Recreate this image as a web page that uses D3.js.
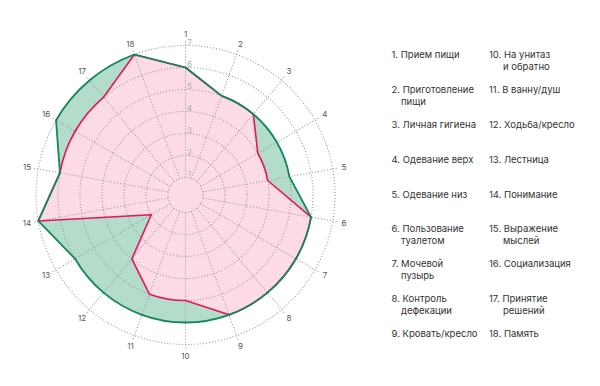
<!DOCTYPE html>
<meta charset="utf-8">
<style>
  body { margin: 0; background: #fff; }
  text { font-family: Inter, "Noto Sans", sans-serif; }
</style>
<body>
  <script src="https://cdn.jsdelivr.net/npm/d3@7"></script>
  <script>
    // axis numbers and the two series (score 1..7 per item)
    var axes = d3.range(1, 19);
    var levels = [1, 2, 3, 4, 5, 6, 7];
    var before = [6, 5, 5, 5, 5, 6, 6, 6, 6, 6, 6, 6, 6, 7, 6, 7, 7, 7];
    var after = [6, 5, 5, 4, 4, 6, 6, 6, 6, 5, 5, 4, 2, 7, 6, 6, 6, 7];

    var legendLeft = [
      "1. Прием пищи",
      "2. Приготовление\nпищи",
      "3. Личная гигиена",
      "4. Одевание верх",
      "5. Одевание низ",
      "6. Пользование\nтуалетом",
      "7. Мочевой\nпузырь",
      "8. Контроль\nдефекации",
      "9. Кровать/кресло"
    ];
    var legendRight = [
      "10. На унитаз\nи обратно",
      "11. В ванну/душ",
      "12. Ходьба/кресло",
      "13. Лестница",
      "14. Понимание",
      "15. Выражение\nмыслей",
      "16. Социализация",
      "17. Принятие\nрешений",
      "18. Память"
    ];

    var width = 600, height = 386;
    var cx = 185.5, cy = 195;

    var svg = d3.select("body").append("svg")
      .attr("width", width)
      .attr("height", height);

    var g = svg.append("g")
      .attr("transform", "translate(" + cx + "," + cy + ")");

    var r = d3.scaleLinear().domain([1, 7]).range([17.5, 149.5]);
    var angle = d3.scaleLinear().domain([0, axes.length]).range([0, 2 * Math.PI]);

    // straight edges between different scores, arcs between equal ones
    function shape(values) {
      var p = d3.path();
      var n = values.length;
      values.forEach(function(v, i) {
        var a = angle(i) - Math.PI / 2;
        if (i === 0) p.moveTo(r(v) * Math.cos(a), r(v) * Math.sin(a));
        var w = values[(i + 1) % n];
        var b = angle(i + 1) - Math.PI / 2;
        if (w === v) p.arc(0, 0, r(v), a, b, false);
        else p.lineTo(r(w) * Math.cos(b), r(w) * Math.sin(b));
      });
      p.closePath();
      return p.toString();
    }

    // fills
    g.append("path")
      .attr("d", shape(before))
      .style("fill", "#b3dccb");
    g.append("path")
      .attr("d", shape(after))
      .style("fill", "#fcdbe4");

    // grid circles
    g.selectAll(".level")
      .data(levels)
      .enter().append("circle")
      .attr("r", function(d) { return r(d); })
      .style("fill", "none")
      .style("stroke", "#9a9a9a")
      .style("stroke-width", 1.1)
      .style("stroke-dasharray", "1,2");

    // spokes
    g.selectAll(".spoke")
      .data(axes)
      .enter().append("line")
      .attr("x1", function(d, i) { return r(1) * Math.sin(angle(i)); })
      .attr("y1", function(d, i) { return -r(1) * Math.cos(angle(i)); })
      .attr("x2", function(d, i) { return 154 * Math.sin(angle(i)); })
      .attr("y2", function(d, i) { return -154 * Math.cos(angle(i)); })
      .style("stroke", "#9a9a9a")
      .style("stroke-width", 1.1)
      .style("stroke-dasharray", "1,2");

    // strokes
    g.append("path")
      .attr("d", shape(after))
      .style("fill", "none")
      .style("stroke", "#e5165a")
      .style("stroke-width", 1.6)
      .style("stroke-linejoin", "round");
    g.append("path")
      .attr("d", shape(before))
      .style("fill", "none")
      .style("stroke", "#12885a")
      .style("stroke-width", 1.8)
      .style("stroke-linejoin", "round");

    // level labels along axis 1
    g.selectAll(".tick")
      .data(levels)
      .enter().append("text")
      .attr("x", 4)
      .attr("y", function(d) { return -r(d) - 1; })
      .attr("text-anchor", "middle")
      .style("font-size", "7.5px")
      .style("fill", "#aaa")
      .text(function(d) { return d; });

    // axis numbers
    g.selectAll(".axis-label")
      .data(axes)
      .enter().append("text")
      .attr("x", function(d, i) { return 161 * Math.sin(angle(i)); })
      .attr("y", function(d, i) { return -161 * Math.cos(angle(i)); })
      .attr("dy", "0.35em")
      .attr("text-anchor", "middle")
      .style("font-size", "8px")
      .style("fill", "#555")
      .text(function(d) { return d; });

    // legend
    function legend(items, x, indent) {
      var row = d3.scaleLinear().domain([0, 8]).range([58, 337]);
      items.forEach(function(item, i) {
        var lines = item.split("\n");
        var t = svg.append("text")
          .attr("x", x)
          .attr("y", row(i))
          .style("font-size", "9.5px")
          .style("fill", "#333");
        lines.forEach(function(line, j) {
          t.append("tspan")
            .attr("x", j ? x + indent : x)
            .attr("dy", j ? 12 : 0)
            .text(line);
        });
      });
    }
    legend(legendLeft, 391.5, 9.5);
    legend(legendRight, 489, 14);
  </script>
</body>
